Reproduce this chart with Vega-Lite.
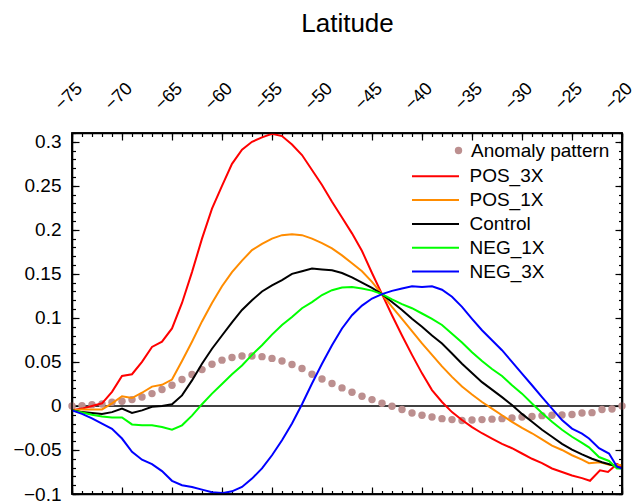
{
  "$schema": "https://vega.github.io/schema/vega-lite/v6.json",
  "width": 550,
  "height": 361,
  "autosize": {"type": "none"},
  "padding": {"left": 72, "top": 133, "right": 22, "bottom": 10},
  "background": "white",
  "config": {
    "view": {"stroke": "#000000", "strokeWidth": 1.6},
    "font": "Liberation Sans",
    "axis": {"domain": false, "grid": false, "tickColor": "#000000", "tickWidth": 1.2, "domainColor": "#000000", "domainWidth": 1.6, "labelColor": "black", "labelFont": "Liberation Sans", "titleFont": "Liberation Sans", "titleColor": "black"},
    "legend": {"labelFont": "Liberation Sans", "labelFontSize": 19, "labelColor": "black", "labelLimit": 400, "padding": 0}
  },
  "datasets": {
    "d": [
      {"series":"Anomaly pattern","lat":-75,"val":0.0},{"series":"Anomaly pattern","lat":-74,"val":0.0004},{"series":"Anomaly pattern","lat":-73,"val":0.0015},{"series":"Anomaly pattern","lat":-72,"val":0.0023},{"series":"Anomaly pattern","lat":-71,"val":0.0042},{"series":"Anomaly pattern","lat":-70,"val":0.0053},{"series":"Anomaly pattern","lat":-69,"val":0.0072},{"series":"Anomaly pattern","lat":-68,"val":0.0102},{"series":"Anomaly pattern","lat":-67,"val":0.014},{"series":"Anomaly pattern","lat":-66,"val":0.0186},{"series":"Anomaly pattern","lat":-65,"val":0.0235},{"series":"Anomaly pattern","lat":-64,"val":0.030},{"series":"Anomaly pattern","lat":-63,"val":0.0357},{"series":"Anomaly pattern","lat":-62,"val":0.0413},{"series":"Anomaly pattern","lat":-61,"val":0.0474},{"series":"Anomaly pattern","lat":-60,"val":0.052},{"series":"Anomaly pattern","lat":-59,"val":0.055},{"series":"Anomaly pattern","lat":-58,"val":0.0568},{"series":"Anomaly pattern","lat":-57,"val":0.0568},{"series":"Anomaly pattern","lat":-56,"val":0.056},{"series":"Anomaly pattern","lat":-55,"val":0.054},{"series":"Anomaly pattern","lat":-54,"val":0.051},{"series":"Anomaly pattern","lat":-53,"val":0.047},{"series":"Anomaly pattern","lat":-52,"val":0.0425},{"series":"Anomaly pattern","lat":-51,"val":0.036},{"series":"Anomaly pattern","lat":-50,"val":0.0307},{"series":"Anomaly pattern","lat":-49,"val":0.0255},{"series":"Anomaly pattern","lat":-48,"val":0.0205},{"series":"Anomaly pattern","lat":-47,"val":0.0156},{"series":"Anomaly pattern","lat":-46,"val":0.011},{"series":"Anomaly pattern","lat":-45,"val":0.0072},{"series":"Anomaly pattern","lat":-44,"val":0.003},{"series":"Anomaly pattern","lat":-43,"val":-0.0004},{"series":"Anomaly pattern","lat":-42,"val":-0.004},{"series":"Anomaly pattern","lat":-41,"val":-0.008},{"series":"Anomaly pattern","lat":-40,"val":-0.0106},{"series":"Anomaly pattern","lat":-39,"val":-0.0125},{"series":"Anomaly pattern","lat":-38,"val":-0.0144},{"series":"Anomaly pattern","lat":-37,"val":-0.0155},{"series":"Anomaly pattern","lat":-36,"val":-0.0166},{"series":"Anomaly pattern","lat":-35,"val":-0.016},{"series":"Anomaly pattern","lat":-34,"val":-0.0155},{"series":"Anomaly pattern","lat":-33,"val":-0.015},{"series":"Anomaly pattern","lat":-32,"val":-0.0144},{"series":"Anomaly pattern","lat":-31,"val":-0.0136},{"series":"Anomaly pattern","lat":-30,"val":-0.0125},{"series":"Anomaly pattern","lat":-29,"val":-0.012},{"series":"Anomaly pattern","lat":-28,"val":-0.011},{"series":"Anomaly pattern","lat":-27,"val":-0.0106},{"series":"Anomaly pattern","lat":-26,"val":-0.0102},{"series":"Anomaly pattern","lat":-25,"val":-0.0098},{"series":"Anomaly pattern","lat":-24,"val":-0.008},{"series":"Anomaly pattern","lat":-23,"val":-0.0076},{"series":"Anomaly pattern","lat":-22,"val":-0.004},{"series":"Anomaly pattern","lat":-21,"val":-0.0034},{"series":"Anomaly pattern","lat":-20,"val":0.0},

      {"series":"POS_3X","lat":-75,"val":-0.005},{"series":"POS_3X","lat":-74,"val":-0.003},{"series":"POS_3X","lat":-73,"val":0.0},{"series":"POS_3X","lat":-72,"val":0.003},{"series":"POS_3X","lat":-71,"val":0.016},{"series":"POS_3X","lat":-70,"val":0.034},{"series":"POS_3X","lat":-69,"val":0.036},{"series":"POS_3X","lat":-68,"val":0.050},{"series":"POS_3X","lat":-67,"val":0.067},{"series":"POS_3X","lat":-66,"val":0.073},{"series":"POS_3X","lat":-65,"val":0.088},{"series":"POS_3X","lat":-64,"val":0.117},{"series":"POS_3X","lat":-63,"val":0.152},{"series":"POS_3X","lat":-62,"val":0.190},{"series":"POS_3X","lat":-61,"val":0.224},{"series":"POS_3X","lat":-60,"val":0.250},{"series":"POS_3X","lat":-59,"val":0.275},{"series":"POS_3X","lat":-58,"val":0.291},{"series":"POS_3X","lat":-57,"val":0.300},{"series":"POS_3X","lat":-56,"val":0.305},{"series":"POS_3X","lat":-55,"val":0.309},{"series":"POS_3X","lat":-54,"val":0.3065},{"series":"POS_3X","lat":-53,"val":0.297},{"series":"POS_3X","lat":-52,"val":0.285},{"series":"POS_3X","lat":-51,"val":0.268},{"series":"POS_3X","lat":-50,"val":0.251},{"series":"POS_3X","lat":-49,"val":0.232},{"series":"POS_3X","lat":-48,"val":0.214},{"series":"POS_3X","lat":-47,"val":0.196},{"series":"POS_3X","lat":-46,"val":0.176},{"series":"POS_3X","lat":-45,"val":0.151},{"series":"POS_3X","lat":-44,"val":0.127},{"series":"POS_3X","lat":-43,"val":0.103},{"series":"POS_3X","lat":-42,"val":0.080},{"series":"POS_3X","lat":-41,"val":0.058},{"series":"POS_3X","lat":-40,"val":0.037},{"series":"POS_3X","lat":-39,"val":0.018},{"series":"POS_3X","lat":-38,"val":0.0045},{"series":"POS_3X","lat":-37,"val":-0.007},{"series":"POS_3X","lat":-36,"val":-0.016},{"series":"POS_3X","lat":-35,"val":-0.024},{"series":"POS_3X","lat":-34,"val":-0.031},{"series":"POS_3X","lat":-33,"val":-0.037},{"series":"POS_3X","lat":-32,"val":-0.043},{"series":"POS_3X","lat":-31,"val":-0.048},{"series":"POS_3X","lat":-30,"val":-0.054},{"series":"POS_3X","lat":-29,"val":-0.060},{"series":"POS_3X","lat":-28,"val":-0.065},{"series":"POS_3X","lat":-27,"val":-0.071},{"series":"POS_3X","lat":-26,"val":-0.075},{"series":"POS_3X","lat":-25,"val":-0.079},{"series":"POS_3X","lat":-24,"val":-0.082},{"series":"POS_3X","lat":-23.2,"val":-0.085},{"series":"POS_3X","lat":-22.2,"val":-0.073},{"series":"POS_3X","lat":-21.4,"val":-0.075},{"series":"POS_3X","lat":-20.5,"val":-0.066},{"series":"POS_3X","lat":-20,"val":-0.069},

      {"series":"POS_1X","lat":-75,"val":-0.005},{"series":"POS_1X","lat":-74,"val":-0.004},{"series":"POS_1X","lat":-73,"val":-0.004},{"series":"POS_1X","lat":-72,"val":-0.004},{"series":"POS_1X","lat":-71,"val":0.003},{"series":"POS_1X","lat":-70,"val":0.011},{"series":"POS_1X","lat":-69,"val":0.009},{"series":"POS_1X","lat":-68,"val":0.015},{"series":"POS_1X","lat":-67,"val":0.022},{"series":"POS_1X","lat":-66,"val":0.024},{"series":"POS_1X","lat":-65,"val":0.030},{"series":"POS_1X","lat":-64,"val":0.051},{"series":"POS_1X","lat":-63,"val":0.073},{"series":"POS_1X","lat":-62,"val":0.096},{"series":"POS_1X","lat":-61,"val":0.117},{"series":"POS_1X","lat":-60,"val":0.136},{"series":"POS_1X","lat":-59,"val":0.152},{"series":"POS_1X","lat":-58,"val":0.165},{"series":"POS_1X","lat":-57,"val":0.177},{"series":"POS_1X","lat":-56,"val":0.184},{"series":"POS_1X","lat":-55,"val":0.190},{"series":"POS_1X","lat":-54,"val":0.194},{"series":"POS_1X","lat":-53,"val":0.195},{"series":"POS_1X","lat":-52,"val":0.194},{"series":"POS_1X","lat":-51,"val":0.190},{"series":"POS_1X","lat":-50,"val":0.185},{"series":"POS_1X","lat":-49,"val":0.179},{"series":"POS_1X","lat":-48,"val":0.171},{"series":"POS_1X","lat":-47,"val":0.162},{"series":"POS_1X","lat":-46,"val":0.153},{"series":"POS_1X","lat":-45,"val":0.141},{"series":"POS_1X","lat":-44,"val":0.127},{"series":"POS_1X","lat":-43,"val":0.1125},{"series":"POS_1X","lat":-42,"val":0.099},{"series":"POS_1X","lat":-41,"val":0.085},{"series":"POS_1X","lat":-40,"val":0.071},{"series":"POS_1X","lat":-39,"val":0.058},{"series":"POS_1X","lat":-38,"val":0.045},{"series":"POS_1X","lat":-37,"val":0.033},{"series":"POS_1X","lat":-36,"val":0.022},{"series":"POS_1X","lat":-35,"val":0.013},{"series":"POS_1X","lat":-34,"val":0.0045},{"series":"POS_1X","lat":-33,"val":-0.003},{"series":"POS_1X","lat":-32,"val":-0.0106},{"series":"POS_1X","lat":-31,"val":-0.018},{"series":"POS_1X","lat":-30,"val":-0.025},{"series":"POS_1X","lat":-29,"val":-0.031},{"series":"POS_1X","lat":-28,"val":-0.038},{"series":"POS_1X","lat":-27,"val":-0.045},{"series":"POS_1X","lat":-26,"val":-0.050},{"series":"POS_1X","lat":-25,"val":-0.056},{"series":"POS_1X","lat":-24,"val":-0.061},{"series":"POS_1X","lat":-23.3,"val":-0.065},{"series":"POS_1X","lat":-22.2,"val":-0.064},{"series":"POS_1X","lat":-21.2,"val":-0.067},{"series":"POS_1X","lat":-20,"val":-0.067},

      {"series":"Control","lat":-75,"val":-0.005},{"series":"Control","lat":-74,"val":-0.007},{"series":"Control","lat":-73,"val":-0.008},{"series":"Control","lat":-72,"val":-0.009},{"series":"Control","lat":-71,"val":-0.007},{"series":"Control","lat":-70,"val":-0.003},{"series":"Control","lat":-69,"val":-0.008},{"series":"Control","lat":-68,"val":-0.005},{"series":"Control","lat":-67,"val":-0.001},{"series":"Control","lat":-66,"val":0.0},{"series":"Control","lat":-65,"val":0.002},{"series":"Control","lat":-64,"val":0.012},{"series":"Control","lat":-63,"val":0.029},{"series":"Control","lat":-62,"val":0.048},{"series":"Control","lat":-61,"val":0.065},{"series":"Control","lat":-60,"val":0.080},{"series":"Control","lat":-59,"val":0.095},{"series":"Control","lat":-58,"val":0.109},{"series":"Control","lat":-57,"val":0.120},{"series":"Control","lat":-56,"val":0.130},{"series":"Control","lat":-55,"val":0.137},{"series":"Control","lat":-54,"val":0.143},{"series":"Control","lat":-53,"val":0.150},{"series":"Control","lat":-52,"val":0.153},{"series":"Control","lat":-51,"val":0.156},{"series":"Control","lat":-50,"val":0.155},{"series":"Control","lat":-49,"val":0.154},{"series":"Control","lat":-48,"val":0.151},{"series":"Control","lat":-47,"val":0.146},{"series":"Control","lat":-46,"val":0.140},{"series":"Control","lat":-45,"val":0.134},{"series":"Control","lat":-44,"val":0.127},{"series":"Control","lat":-43,"val":0.118},{"series":"Control","lat":-42,"val":0.109},{"series":"Control","lat":-41,"val":0.099},{"series":"Control","lat":-40,"val":0.090},{"series":"Control","lat":-39,"val":0.080},{"series":"Control","lat":-38,"val":0.071},{"series":"Control","lat":-37,"val":0.0595},{"series":"Control","lat":-36,"val":0.048},{"series":"Control","lat":-35,"val":0.0375},{"series":"Control","lat":-34,"val":0.027},{"series":"Control","lat":-33,"val":0.0186},{"series":"Control","lat":-32,"val":0.010},{"series":"Control","lat":-31,"val":0.001},{"series":"Control","lat":-30,"val":-0.009},{"series":"Control","lat":-29,"val":-0.018},{"series":"Control","lat":-28,"val":-0.027},{"series":"Control","lat":-27,"val":-0.035},{"series":"Control","lat":-26,"val":-0.043},{"series":"Control","lat":-25,"val":-0.0495},{"series":"Control","lat":-24,"val":-0.055},{"series":"Control","lat":-23,"val":-0.060},{"series":"Control","lat":-22,"val":-0.064},{"series":"Control","lat":-21,"val":-0.067},{"series":"Control","lat":-20,"val":-0.071},

      {"series":"NEG_1X","lat":-75,"val":-0.005},{"series":"NEG_1X","lat":-74,"val":-0.0075},{"series":"NEG_1X","lat":-73,"val":-0.010},{"series":"NEG_1X","lat":-72,"val":-0.012},{"series":"NEG_1X","lat":-71,"val":-0.013},{"series":"NEG_1X","lat":-70,"val":-0.013},{"series":"NEG_1X","lat":-69,"val":-0.021},{"series":"NEG_1X","lat":-68,"val":-0.022},{"series":"NEG_1X","lat":-67,"val":-0.022},{"series":"NEG_1X","lat":-66,"val":-0.024},{"series":"NEG_1X","lat":-65,"val":-0.027},{"series":"NEG_1X","lat":-64,"val":-0.022},{"series":"NEG_1X","lat":-63,"val":-0.011},{"series":"NEG_1X","lat":-62,"val":0.002},{"series":"NEG_1X","lat":-61,"val":0.014},{"series":"NEG_1X","lat":-60,"val":0.025},{"series":"NEG_1X","lat":-59,"val":0.036},{"series":"NEG_1X","lat":-58,"val":0.046},{"series":"NEG_1X","lat":-57,"val":0.058},{"series":"NEG_1X","lat":-56,"val":0.069},{"series":"NEG_1X","lat":-55,"val":0.081},{"series":"NEG_1X","lat":-54,"val":0.092},{"series":"NEG_1X","lat":-53,"val":0.101},{"series":"NEG_1X","lat":-52,"val":0.111},{"series":"NEG_1X","lat":-51,"val":0.118},{"series":"NEG_1X","lat":-50,"val":0.126},{"series":"NEG_1X","lat":-49,"val":0.1315},{"series":"NEG_1X","lat":-48,"val":0.1345},{"series":"NEG_1X","lat":-47,"val":0.135},{"series":"NEG_1X","lat":-46,"val":0.1334},{"series":"NEG_1X","lat":-45,"val":0.131},{"series":"NEG_1X","lat":-44,"val":0.127},{"series":"NEG_1X","lat":-43,"val":0.121},{"series":"NEG_1X","lat":-42,"val":0.1156},{"series":"NEG_1X","lat":-41,"val":0.111},{"series":"NEG_1X","lat":-40,"val":0.105},{"series":"NEG_1X","lat":-39,"val":0.099},{"series":"NEG_1X","lat":-38,"val":0.092},{"series":"NEG_1X","lat":-37,"val":0.082},{"series":"NEG_1X","lat":-36,"val":0.072},{"series":"NEG_1X","lat":-35,"val":0.061},{"series":"NEG_1X","lat":-34,"val":0.051},{"series":"NEG_1X","lat":-33,"val":0.042},{"series":"NEG_1X","lat":-32,"val":0.034},{"series":"NEG_1X","lat":-31,"val":0.0235},{"series":"NEG_1X","lat":-30,"val":0.014},{"series":"NEG_1X","lat":-29,"val":0.0027},{"series":"NEG_1X","lat":-28,"val":-0.008},{"series":"NEG_1X","lat":-27,"val":-0.018},{"series":"NEG_1X","lat":-26,"val":-0.027},{"series":"NEG_1X","lat":-25,"val":-0.035},{"series":"NEG_1X","lat":-24,"val":-0.042},{"series":"NEG_1X","lat":-23.3,"val":-0.047},{"series":"NEG_1X","lat":-22.3,"val":-0.058},{"series":"NEG_1X","lat":-21.3,"val":-0.0625},{"series":"NEG_1X","lat":-20.5,"val":-0.071},{"series":"NEG_1X","lat":-20,"val":-0.071},

      {"series":"NEG_3X","lat":-75,"val":-0.005},{"series":"NEG_3X","lat":-74,"val":-0.009},{"series":"NEG_3X","lat":-73,"val":-0.014},{"series":"NEG_3X","lat":-72,"val":-0.020},{"series":"NEG_3X","lat":-71,"val":-0.026},{"series":"NEG_3X","lat":-70,"val":-0.037},{"series":"NEG_3X","lat":-69,"val":-0.052},{"series":"NEG_3X","lat":-68,"val":-0.061},{"series":"NEG_3X","lat":-67,"val":-0.066},{"series":"NEG_3X","lat":-66,"val":-0.074},{"series":"NEG_3X","lat":-65,"val":-0.085},{"series":"NEG_3X","lat":-64,"val":-0.090},{"series":"NEG_3X","lat":-63,"val":-0.092},{"series":"NEG_3X","lat":-62,"val":-0.095},{"series":"NEG_3X","lat":-61,"val":-0.098},{"series":"NEG_3X","lat":-60,"val":-0.099},{"series":"NEG_3X","lat":-59,"val":-0.097},{"series":"NEG_3X","lat":-58,"val":-0.092},{"series":"NEG_3X","lat":-57,"val":-0.0825},{"series":"NEG_3X","lat":-56,"val":-0.071},{"series":"NEG_3X","lat":-55,"val":-0.056},{"series":"NEG_3X","lat":-54,"val":-0.039},{"series":"NEG_3X","lat":-53,"val":-0.020},{"series":"NEG_3X","lat":-52,"val":0.002},{"series":"NEG_3X","lat":-51,"val":0.0255},{"series":"NEG_3X","lat":-50,"val":0.048},{"series":"NEG_3X","lat":-49,"val":0.069},{"series":"NEG_3X","lat":-48,"val":0.088},{"series":"NEG_3X","lat":-47,"val":0.103},{"series":"NEG_3X","lat":-46,"val":0.114},{"series":"NEG_3X","lat":-45,"val":0.122},{"series":"NEG_3X","lat":-44,"val":0.127},{"series":"NEG_3X","lat":-43,"val":0.1307},{"series":"NEG_3X","lat":-42,"val":0.1334},{"series":"NEG_3X","lat":-41,"val":0.136},{"series":"NEG_3X","lat":-40,"val":0.135},{"series":"NEG_3X","lat":-39,"val":0.136},{"series":"NEG_3X","lat":-38,"val":0.132},{"series":"NEG_3X","lat":-37,"val":0.124},{"series":"NEG_3X","lat":-36,"val":0.1125},{"series":"NEG_3X","lat":-35,"val":0.099},{"series":"NEG_3X","lat":-34,"val":0.086},{"series":"NEG_3X","lat":-33,"val":0.0747},{"series":"NEG_3X","lat":-32,"val":0.0633},{"series":"NEG_3X","lat":-31,"val":0.050},{"series":"NEG_3X","lat":-30,"val":0.0368},{"series":"NEG_3X","lat":-29,"val":0.0235},{"series":"NEG_3X","lat":-28,"val":0.010},{"series":"NEG_3X","lat":-27,"val":-0.003},{"series":"NEG_3X","lat":-26,"val":-0.016},{"series":"NEG_3X","lat":-25,"val":-0.0257},{"series":"NEG_3X","lat":-24,"val":-0.0314},{"series":"NEG_3X","lat":-23.3,"val":-0.037},{"series":"NEG_3X","lat":-22.3,"val":-0.048},{"series":"NEG_3X","lat":-21.3,"val":-0.054},{"series":"NEG_3X","lat":-20.5,"val":-0.069},{"series":"NEG_3X","lat":-20,"val":-0.071}
    ]
  },
  "data": {"name": "d"},
  "resolve": {"scale": {"x": "independent", "y": "independent"}, "axis": {"x": "independent", "y": "independent"}},
  "layer": [
    {
      "data": {"values": [{}]},
      "mark": {"type": "rule", "color": "black", "strokeWidth": 1.6},
      "encoding": {
        "x": {"datum": -75, "type": "quantitative", "scale": {"domain": [-75, -20], "nice": false, "zero": false},
              "axis": {"orient": "bottom", "values": [-75,-74,-73,-72,-71,-70,-69,-68,-67,-66,-65,-64,-63,-62,-61,-60,-59,-58,-57,-56,-55,-54,-53,-52,-51,-50,-49,-48,-47,-46,-45,-44,-43,-42,-41,-40,-39,-38,-37,-36,-35,-34,-33,-32,-31,-30,-29,-28,-27,-26,-25,-24,-23,-22,-21,-20], "tickSize": -3.5, "tickColor": "#000000", "tickWidth": 1.2, "labels": false, "title": null}},
        "x2": {"datum": -20},
        "y": {"datum": 0, "type": "quantitative", "scale": {"domain": [-0.1, 0.31], "nice": false, "zero": false},
              "axis": {"orient": "left", "values": [-0.1,-0.09,-0.08,-0.07,-0.06,-0.05,-0.04,-0.03,-0.02,-0.01,0,0.01,0.02,0.03,0.04,0.05,0.06,0.07,0.08,0.09,0.1,0.11,0.12,0.13,0.14,0.15,0.16,0.17,0.18,0.19,0.2,0.21,0.22,0.23,0.24,0.25,0.26,0.27,0.28,0.29,0.3,0.31], "tickSize": -3.5, "tickColor": "#000000", "tickWidth": 1.2, "labels": false, "title": null}}
      }
    },
    {
      "transform": [{"filter": "datum.series === 'Anomaly pattern'"}],
      "mark": {"type": "point", "filled": true, "size": 55, "opacity": 1, "strokeWidth": 0},
      "encoding": {
        "x": {"field": "lat", "type": "quantitative", "scale": {"domain": [-75, -20], "nice": false, "zero": false},
              "axis": {"orient": "top", "domain": true, "values": [-75,-70,-65,-60,-55,-50,-45,-40,-35,-30,-25,-20], "format": "d", "tickSize": -7, "tickColor": "#000000", "tickWidth": 1.2,
                       "labelAngle": -45, "labelAlign": "center", "labelBaseline": "alphabetic", "labelFontSize": 18, "labelPadding": 40,
                       "labelFlush": false, "labelOverlap": false, "labelBound": false,
                       "title": "Latitude", "titleFontSize": 26, "titleFontWeight": "normal", "titleX": 275, "titleY": -102, "titleAlign": "center", "titleBaseline": "alphabetic", "titleAngle": 0}},
        "y": {"field": "val", "type": "quantitative", "scale": {"domain": [-0.1, 0.31], "nice": false, "zero": false},
              "axis": {"orient": "left", "domain": true, "values": [-0.1,-0.05,0,0.05,0.1,0.15,0.2,0.25,0.3], "format": ".2~f", "tickSize": -7, "tickColor": "#000000", "tickWidth": 1.2, "labelFontSize": 19, "labelPadding": 18, "labelFlush": false, "labelOverlap": false, "title": null}},
        "fill": {"field": "series", "type": "nominal", "scale": {"domain": ["Anomaly pattern"], "range": ["#bc8f8f"]},
                 "legend": {"orient": "none", "legendX": 377, "legendY": 8, "title": null, "symbolType": "circle", "symbolSize": 55, "labelOffset": 3, "symbolStrokeWidth": 0}}
      }
    },
    {
      "transform": [{"filter": "datum.series === 'POS_3X' || datum.series === 'POS_1X' || datum.series === 'Control'"}],
      "mark": {"type": "line", "strokeWidth": 2},
      "encoding": {
        "x": {"field": "lat", "type": "quantitative", "scale": {"domain": [-75, -20], "nice": false, "zero": false},
              "axis": {"orient": "bottom", "domain": true, "values": [-75,-70,-65,-60,-55,-50,-45,-40,-35,-30,-25,-20], "tickSize": -7, "tickColor": "#000000", "tickWidth": 1.2, "labels": false, "title": null}},
        "y": {"field": "val", "type": "quantitative", "scale": {"domain": [-0.1, 0.31], "nice": false, "zero": false},
              "axis": {"orient": "right", "domain": true, "values": [-0.1,-0.05,0,0.05,0.1,0.15,0.2,0.25,0.3], "tickSize": -7, "tickColor": "#000000", "tickWidth": 1.2, "labels": false, "title": null}},
        "stroke": {"field": "series", "type": "nominal",
                   "scale": {"domain": ["POS_3X","POS_1X","Control","NEG_1X","NEG_3X"], "range": ["#ff0000","#ff8c00","#000000","#00ff00","#0000ff"]},
                   "legend": {"orient": "none", "legendX": 339, "legendY": 32.3, "title": null, "symbolType": "M-2.35,0H2.35", "symbolSize": 400, "symbolStrokeWidth": 2, "symbolOffset": 13.5, "labelOffset": 23, "rowPadding": 2.8}}
      }
    },
    {
      "transform": [{"filter": "datum.series === 'NEG_1X' || datum.series === 'NEG_3X'"}],
      "mark": {"type": "line", "strokeWidth": 2},
      "encoding": {
        "x": {"field": "lat", "type": "quantitative", "scale": {"domain": [-75, -20], "nice": false, "zero": false},
              "axis": {"orient": "top", "values": [-75,-74,-73,-72,-71,-70,-69,-68,-67,-66,-65,-64,-63,-62,-61,-60,-59,-58,-57,-56,-55,-54,-53,-52,-51,-50,-49,-48,-47,-46,-45,-44,-43,-42,-41,-40,-39,-38,-37,-36,-35,-34,-33,-32,-31,-30,-29,-28,-27,-26,-25,-24,-23,-22,-21,-20], "tickSize": -3.5, "tickColor": "#000000", "tickWidth": 1.2, "labels": false, "title": null}},
        "y": {"field": "val", "type": "quantitative", "scale": {"domain": [-0.1, 0.31], "nice": false, "zero": false},
              "axis": {"orient": "right", "values": [-0.1,-0.09,-0.08,-0.07,-0.06,-0.05,-0.04,-0.03,-0.02,-0.01,0,0.01,0.02,0.03,0.04,0.05,0.06,0.07,0.08,0.09,0.1,0.11,0.12,0.13,0.14,0.15,0.16,0.17,0.18,0.19,0.2,0.21,0.22,0.23,0.24,0.25,0.26,0.27,0.28,0.29,0.3,0.31], "tickSize": -3.5, "tickColor": "#000000", "tickWidth": 1.2, "labels": false, "title": null}},
        "stroke": {"field": "series", "type": "nominal"}
      }
    },
    {
      "data": {"values": [{}]},
      "mark": {"type": "rect", "fillOpacity": 0, "stroke": "black", "strokeWidth": 1.6},
      "encoding": {
        "x": {"datum": -75, "type": "quantitative", "scale": {"domain": [-75, -20], "nice": false, "zero": false}, "axis": null},
        "x2": {"datum": -20},
        "y": {"datum": -0.1, "type": "quantitative", "scale": {"domain": [-0.1, 0.31], "nice": false, "zero": false}, "axis": null},
        "y2": {"datum": 0.31}
      }
    }
  ]
}
